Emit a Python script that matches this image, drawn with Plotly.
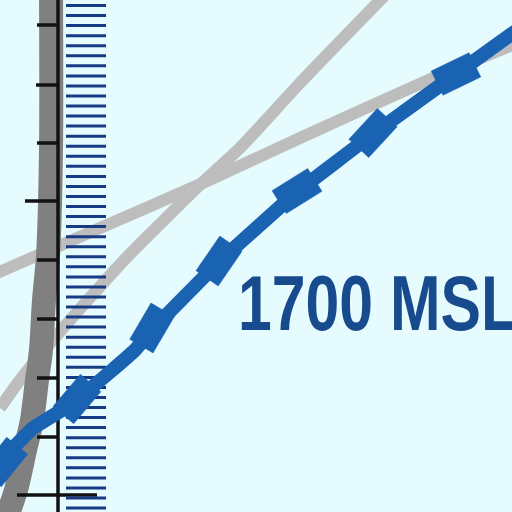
import numpy as np
import plotly.graph_objects as go

# chart background and colours
BG = '#e6fbfd'
ROUTE_BLUE = '#1a63b2'
HATCH_BLUE = '#173a85'
TEXT_BLUE = '#174b8e'

# blue route centre line (image pixel coordinates, y down)
route_x = [-10, 13, 33, 70, 110, 135, 152, 219, 297, 373, 456, 520]
route_y = [468, 448, 428, 405, 372, 350, 330, 262, 192, 134, 74, 28]

# notches sitting on the route: centre and which way the block leans
notch_x = [4, 77, 152, 219, 297, 373, 456]
notch_y = [462, 399, 328, 261, 191, 133, 74]
notch_lean = [1, 1, 1, 1, -1, 1, -1]

# light grey roads
road_a_x = [-5, 100, 205, 300, 433, 520]
road_a_y = [274, 228, 182, 138, 78, 42]
road_b_x = [0, 20, 58, 87, 128, 205, 240, 300, 390]
road_b_y = [408, 380, 334, 301, 256, 180, 148, 83, -10]

# dark grey curved band
band_x = [51, 51, 48, 44, 41, 37, 32, 25, 16, 2]
band_y = [-10, 150, 256, 300, 350, 380, 420, 450, 490, 530]

# black scale bar with ticks
scale_x = 58
tick_y = [25, 85, 143, 201, 260, 319, 378, 437, 495]
tick_left = [37, 36, 37, 25, 37, 37, 37, 37, 17]
tick_right = [57, 57, 57, 57, 57, 57, 57, 57, 97]

# blue hatch marks to the right of the scale bar
hatch_y = [5.5, 15.6, 25.6, 35.7, 45.7, 55.8, 65.8, 75.9, 85.9, 96.0,
           106.0, 116.1, 126.1, 136.2, 146.2, 156.3, 166.3, 176.4, 186.4, 196.5,
           206.5, 216.6, 226.6, 236.7, 246.7, 256.8, 266.8, 276.9, 286.9, 297.0,
           307.0, 317.1, 327.1, 337.2, 347.2, 357.3, 367.3, 377.4, 387.4, 397.5,
           407.5, 417.6, 427.6, 437.7, 447.7, 457.8, 467.8, 477.9, 487.9, 498.0,
           508.0]
hatch_x0, hatch_x1 = 66, 106

label = '1700 MSL'

fig = go.Figure()

# roads
for rx, ry in [(road_a_x, road_a_y), (road_b_x, road_b_y)]:
    fig.add_trace(go.Scatter(x=rx, y=ry, mode='lines',
                             line=dict(color='#bdbdbd', width=12, shape='spline', smoothing=0.6),
                             hoverinfo='skip'))

# dark band
fig.add_trace(go.Scatter(x=band_x, y=band_y, mode='lines',
                         line=dict(color='#808080', width=24, shape='spline', smoothing=0.8),
                         hoverinfo='skip'))

# scale bar
fig.add_trace(go.Scatter(x=[scale_x, scale_x], y=[-5, 517], mode='lines',
                         line=dict(color='#111111', width=3.5), hoverinfo='skip'))
tx, ty = [], []
for y, a, b in zip(tick_y, tick_left, tick_right):
    tx += [a, b, None]
    ty += [y, y, None]
fig.add_trace(go.Scatter(x=tx, y=ty, mode='lines',
                         line=dict(color='#111111', width=3.5), hoverinfo='skip'))

# hatch marks
hx, hy = [], []
for y in hatch_y:
    hx += [hatch_x0, hatch_x1, None]
    hy += [y, y, None]
fig.add_trace(go.Scatter(x=hx, y=hy, mode='lines',
                         line=dict(color=HATCH_BLUE, width=3), hoverinfo='skip'))

# route line
fig.add_trace(go.Scatter(x=route_x, y=route_y, mode='lines',
                         line=dict(color=ROUTE_BLUE, width=14, shape='spline', smoothing=0.3),
                         hoverinfo='skip'))

# notches: blocks on the route, tilted a little off the route direction
rx = np.array(route_x, float)
ry = np.array(route_y, float)
L, T, TILT = 42, 27, np.radians(10)
for cx, cy, lean in zip(notch_x, notch_y, notch_lean):
    i = np.searchsorted(rx, cx)
    i = min(max(i, 1), len(rx) - 1)
    d = np.array([rx[i] - rx[i - 1], ry[i] - ry[i - 1]])
    d /= np.linalg.norm(d)
    th = -lean * TILT
    d = np.array([d[0] * np.cos(th) - d[1] * np.sin(th), d[0] * np.sin(th) + d[1] * np.cos(th)])
    n = np.array([-d[1], d[0]])
    c = np.array([cx, cy])
    pts = [c + d * L / 2 + n * T / 2, c + d * L / 2 - n * T / 2,
           c - d * L / 2 - n * T / 2, c - d * L / 2 + n * T / 2]
    pts.append(pts[0])
    fig.add_trace(go.Scatter(x=[p[0] for p in pts], y=[p[1] for p in pts],
                             mode='lines', fill='toself', fillcolor=ROUTE_BLUE,
                             line=dict(color=ROUTE_BLUE, width=0.5), hoverinfo='skip'))

fig.add_annotation(x=237, y=303, xref='x', yref='y', text=label, showarrow=False,
                   xanchor='left', yanchor='middle', borderpad=0,
                   font=dict(family='Liberation Sans, Arial, sans-serif',
                             size=77, color=TEXT_BLUE, weight='bold'))

fig.update_layout(width=512, height=512, margin=dict(l=0, r=0, t=0, b=0),
                  paper_bgcolor=BG, plot_bgcolor=BG, showlegend=False,
                  xaxis=dict(range=[0, 512], visible=False, fixedrange=True),
                  yaxis=dict(range=[512, 0], visible=False, fixedrange=True))

# no page margin; squeeze the label into a condensed look like the chart lettering
post = """
document.body.style.margin = '0';
document.body.style.overflow = 'hidden';
var gd = document.getElementById('{plot_id}');
var t = gd.querySelector('.annotation-text');
if (t) {
  var b = t.getBBox();
  t.setAttribute('text-anchor', 'start');
  t.style.textAnchor = 'start';
  t.setAttribute('x', b.x);
  t.setAttribute('textLength', 280);
  t.setAttribute('lengthAdjust', 'spacingAndGlyphs');
}
"""

fig.write_html('out.html', post_script=post, config={'displayModeBar': False})
